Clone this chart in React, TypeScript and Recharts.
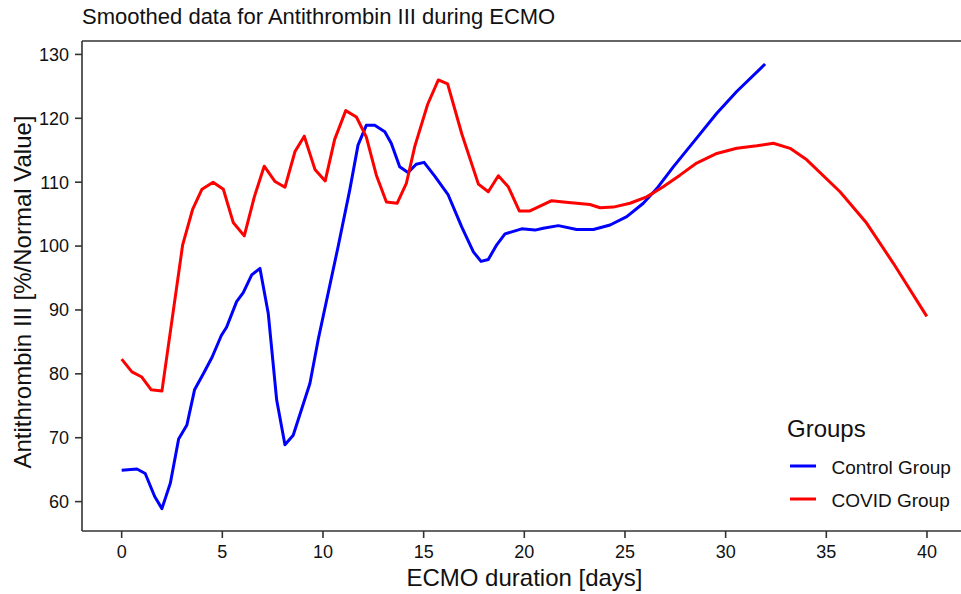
import React from 'react';
import {
  Label,
  Legend,
  Line,
  LineChart,
  ReferenceLine,
  XAxis,
  YAxis,
} from 'recharts';

// Smoothed antithrombin III values.
const controlDays = [
  0, 0.76, 1.17, 1.64, 2.0, 2.42, 2.83, 3.24, 3.62, 4.07, 4.49, 4.95, 5.21, 5.71,
  6.04, 6.46, 6.87, 7.28, 7.7, 8.11, 8.52, 9.35, 9.77, 10.75, 11.33, 11.74, 12.15,
  12.57, 13.07, 13.39, 13.81, 14.22, 14.63, 15.02, 15.56, 16.22, 16.89, 17.47,
  17.85, 18.21, 18.63, 19.04, 19.87, 20.53, 20.94, 21.69, 22.6, 23.43, 24.26,
  25.09, 25.91, 26.58, 27.4, 28.56, 29.56, 30.55, 31.96,
];
const controlValues = [
  64.9, 65.1, 64.4, 60.8, 58.9, 62.9, 69.8, 72.0, 77.5, 80.1, 82.6, 86.0, 87.3, 91.3,
  92.7, 95.5, 96.5, 89.5, 75.9, 68.9, 70.4, 78.5, 85.5, 99.9, 108.8, 115.8, 118.9,
  118.9, 117.9, 116.1, 112.4, 111.5, 112.8, 113.1, 110.9, 108.0, 103.0, 99.1,
  97.6, 97.9, 100.2, 101.9, 102.7, 102.5, 102.8, 103.2, 102.6, 102.6, 103.3,
  104.6, 106.7, 109.0, 112.4, 116.9, 120.8, 124.2, 128.5,
];

const covidDays = [
  0, 0.51, 1.0, 1.47, 2.0, 3.03, 3.53, 3.99, 4.54, 5.05, 5.54, 6.09, 6.59, 7.08,
  7.62, 8.11, 8.61, 9.07, 9.6, 10.11, 10.58, 11.13, 11.66, 12.15, 12.65, 13.15,
  13.68, 14.14, 14.56, 15.2, 15.73, 16.19, 16.9, 17.72, 18.21, 18.71, 19.2, 19.75,
  20.28, 21.36, 21.94, 23.26, 23.76, 24.42, 25.25, 26.08, 26.9, 27.73, 28.56,
  29.56, 30.55, 31.55, 32.37, 33.2, 34.03, 35.68, 37.0, 38.33, 39.99,
];
const covidValues = [
  82.3, 80.3, 79.5, 77.5, 77.3, 100.2, 105.8, 108.9, 110.0, 108.9, 103.7, 101.6, 107.7, 112.5,
  110.1, 109.2, 114.8, 117.2, 112.0, 110.2, 116.7, 121.2, 120.2, 117.1, 111.1, 106.9,
  106.7, 109.8, 115.6, 122.2, 126.0, 125.4, 117.5, 109.7, 108.5, 111.0, 109.3, 105.5,
  105.5, 107.1, 106.9, 106.5, 106.0, 106.1, 106.7, 107.7, 109.3, 111.1, 113.0,
  114.5, 115.3, 115.7, 116.1, 115.3, 113.5, 108.5, 103.6, 97.3, 89.0,
];

const groupNames = ['Control Group', 'COVID Group'];
const xTicks = [0, 5, 10, 15, 20, 25, 30, 35, 40];
const yTicks = [60, 70, 80, 90, 100, 110, 120, 130];

const X_DOMAIN: [number, number] = [-1.97, 41.69];
const Y_DOMAIN: [number, number] = [55.4, 132.1];

const FONT = '"Liberation Sans", Arial, Helvetica, sans-serif';
const AXIS = '#333333';
const INK = '#111111';

const toPoints = (days: number[], values: number[]) =>
  days.map((day, i) => ({ day, value: values[i] }));

const controlData = toPoints(controlDays, controlValues);
const covidData = toPoints(covidDays, covidValues);

function GroupsLegend(props: { payload?: Array<{ value: string; color: string }> }) {
  // keep ggplot's factor order regardless of how recharts hands the payload over
  const items = [...(props.payload ?? [])].sort(
    (a, b) => groupNames.indexOf(a.value) - groupNames.indexOf(b.value),
  );
  return (
    <svg width={190} height={115} style={{ display: 'block', overflow: 'visible' }}>
      <text x={17} y={36.5} fontSize={24} fill={INK} fontFamily={FONT}>
        Groups
      </text>
      {items.map((it, i) => (
        <g key={it.value}>
          <line x1={20} x2={46} y1={66 + i * 33} y2={66 + i * 33} stroke={it.color} strokeWidth={3} />
          <text x={61.5} y={73.5 + i * 33} fontSize={19} fill={INK} fontFamily={FONT}>
            {it.value}
          </text>
        </g>
      ))}
    </svg>
  );
}

export default function App() {
  return (
    <div
      style={{
        position: 'absolute',
        left: 0,
        top: 0,
        width: 961,
        height: 594,
        background: '#fff',
        fontFamily: FONT,
      }}
    >
      <div
        style={{
          position: 'absolute',
          left: 82,
          top: 6,
          fontSize: 22,
          lineHeight: '22px',
          color: INK,
          whiteSpace: 'nowrap',
        }}
      >
        Smoothed data for Antithrombin III during ECMO
      </div>
      <LineChart width={961} height={594} margin={{ top: 41, right: 0, bottom: 0, left: 0 }}>
        <XAxis
          type="number"
          dataKey="day"
          domain={X_DOMAIN}
          ticks={xTicks}
          allowDataOverflow
          height={63}
          tickSize={7}
          tickMargin={7}
          stroke={AXIS}
          strokeWidth={1.6}
          tick={{ fill: INK, fontSize: 18, fontFamily: FONT }}
          tickLine={{ stroke: AXIS, strokeWidth: 1.6 }}
        >
          <Label
            content={(p: any) => {
              const vb = p.viewBox;
              return (
                <text
                  x={vb.x + vb.width / 2 + 3}
                  y={586}
                  textAnchor="middle"
                  fontSize={24}
                  fill={INK}
                  fontFamily={FONT}
                >
                  ECMO duration [days]
                </text>
              );
            }}
          />
        </XAxis>
        <YAxis
          type="number"
          domain={Y_DOMAIN}
          ticks={yTicks}
          allowDataOverflow
          width={82}
          tickSize={7}
          tickMargin={6}
          stroke={AXIS}
          strokeWidth={1.6}
          tick={{ fill: INK, fontSize: 18, fontFamily: FONT }}
          tickLine={{ stroke: AXIS, strokeWidth: 1.6 }}
        >
          <Label
            content={(p: any) => {
              const vb = p.viewBox;
              const cx = 31;
              const cy = vb.y + vb.height / 2 + 6;
              return (
                <text
                  x={cx}
                  y={cy}
                  textAnchor="middle"
                  transform={`rotate(-90 ${cx} ${cy})`}
                  fontSize={24}
                  fill={INK}
                  fontFamily={FONT}
                >
                  Antithrombin III [%/Normal Value]
                </text>
              );
            }}
          />
        </YAxis>
        <ReferenceLine y={Y_DOMAIN[1]} stroke={AXIS} strokeWidth={1.6} />
        <Line
          data={controlData}
          dataKey="value"
          name={groupNames[0]}
          type="linear"
          stroke="#0000ff"
          strokeWidth={3}
          strokeLinejoin="round"
          dot={false}
          activeDot={false}
          isAnimationActive={false}
        />
        <Line
          data={covidData}
          dataKey="value"
          name={groupNames[1]}
          type="linear"
          stroke="#ff0000"
          strokeWidth={3}
          strokeLinejoin="round"
          dot={false}
          activeDot={false}
          isAnimationActive={false}
        />
        <Legend
          layout="horizontal"
          align="center"
          verticalAlign="middle"
          content={<GroupsLegend />}
          wrapperStyle={{ left: 770, top: 400, width: 190, height: 115 }}
        />
      </LineChart>
    </div>
  );
}
